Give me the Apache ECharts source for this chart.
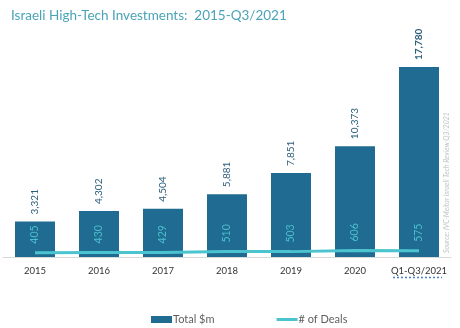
<!DOCTYPE html>
<html>
<head>
<meta charset="utf-8">
<script src="https://cdn.jsdelivr.net/npm/echarts@6/dist/echarts.min.js"></script>
<style>
  html, body { margin: 0; padding: 0; background: #fff; }
  #chart { width: 460px; height: 328px; }
</style>
</head>
<body>
<div id="chart"></div>
<script>
// Israeli high-tech investment totals ($m) and number of deals per period
const periods = ['2015', '2016', '2017', '2018', '2019', '2020', 'Q1-Q3/2021'];
const totalInvestment = [3321, 4302, 4504, 5881, 7851, 10373, 17780];
const dealCount = [405, 430, 429, 510, 503, 606, 575];

const FONT = 'Lato, "Open Sans", sans-serif';
const BAR_COLOR = '#1f6b91';
const LINE_COLOR = '#4cc4cf';
const lastIndex = totalInvestment.length - 1;

const chart = echarts.init(document.getElementById('chart'), null, { renderer: 'canvas' });

chart.setOption({
  animation: false,
  backgroundColor: '#ffffff',
  textStyle: { fontFamily: FONT },
  title: {
    text: 'Israeli High-Tech Investments:  2015-Q3/2021',
    left: 6,
    top: 4,
    textStyle: { fontFamily: FONT, fontSize: 13.5, fontWeight: 'normal', color: '#4aa3b6' }
  },
  grid: { left: 3, right: 9, top: 67, bottom: 71, containLabel: false },
  legend: {
    left: 146,
    top: 309,
    itemGap: 62,
    itemWidth: 21,
    itemHeight: 7,
    textStyle: { fontFamily: FONT, fontSize: 11, color: '#5f5f5f', padding: [0, 0, 0, -4] },
    data: [
      { name: 'Total $m', icon: 'rect' },
      {
        name: '# of Deals',
        icon: 'path://M0,0 L21,0 L21,3 L0,3 Z',
        itemStyle: { color: LINE_COLOR, opacity: 1 }
      }
    ]
  },
  xAxis: {
    type: 'category',
    data: periods,
    axisLine: { lineStyle: { color: '#d9d9d9', width: 1 } },
    axisTick: { show: false },
    axisLabel: { interval: 0, fontFamily: FONT, fontSize: 9.5, color: '#333333', margin: 9 }
  },
  yAxis: {
    type: 'value',
    min: 0,
    max: 17780,
    show: false,
    splitLine: { show: false }
  },
  series: [
    {
      name: 'Total $m',
      type: 'bar',
      data: totalInvestment.map((v, i) => i === lastIndex
        ? { value: v, label: { fontWeight: 'bold' } }
        : v),
      barWidth: 40,
      itemStyle: { color: BAR_COLOR },
      label: {
        show: true,
        position: 'top',
        rotate: 90,
        align: 'left',
        verticalAlign: 'middle',
        distance: 7,
        fontFamily: FONT,
        fontSize: 10,
        color: '#2b5d7c',
        formatter: (p) => p.value.toLocaleString('en-US')
      },
      z: 2
    },
    {
      name: '# of Deals',
      type: 'line',
      data: dealCount,
      symbol: 'circle',
      symbolSize: 0,
      showSymbol: true,
      lineStyle: { color: LINE_COLOR, width: 3 },
      itemStyle: { color: LINE_COLOR },
      label: {
        show: true,
        position: 'top',
        rotate: 90,
        align: 'left',
        verticalAlign: 'middle',
        distance: 9,
        fontFamily: FONT,
        fontSize: 10.5,
        color: '#4bbfcc'
      },
      labelLayout: { hideOverlap: false },
      z: 3
    }
  ],
  graphic: [
    {
      type: 'text',
      x: 447,
      y: 253,
      rotation: Math.PI / 2,
      style: {
        text: 'Source: IVC-Meitar Israeli Tech Review Q3/2021',
        fontFamily: FONT,
        fontSize: 7,
        fontStyle: 'italic',
        fill: '#c2c2c2',
        align: 'left',
        verticalAlign: 'middle'
      }
    },
    {
      type: 'line',
      shape: { x1: 393, y1: 277.5, x2: 442, y2: 277.5 },
      style: { stroke: '#4a7fc4', lineWidth: 1.5, lineDash: [2, 2] }
    }
  ]
});
</script>
</body>
</html>
